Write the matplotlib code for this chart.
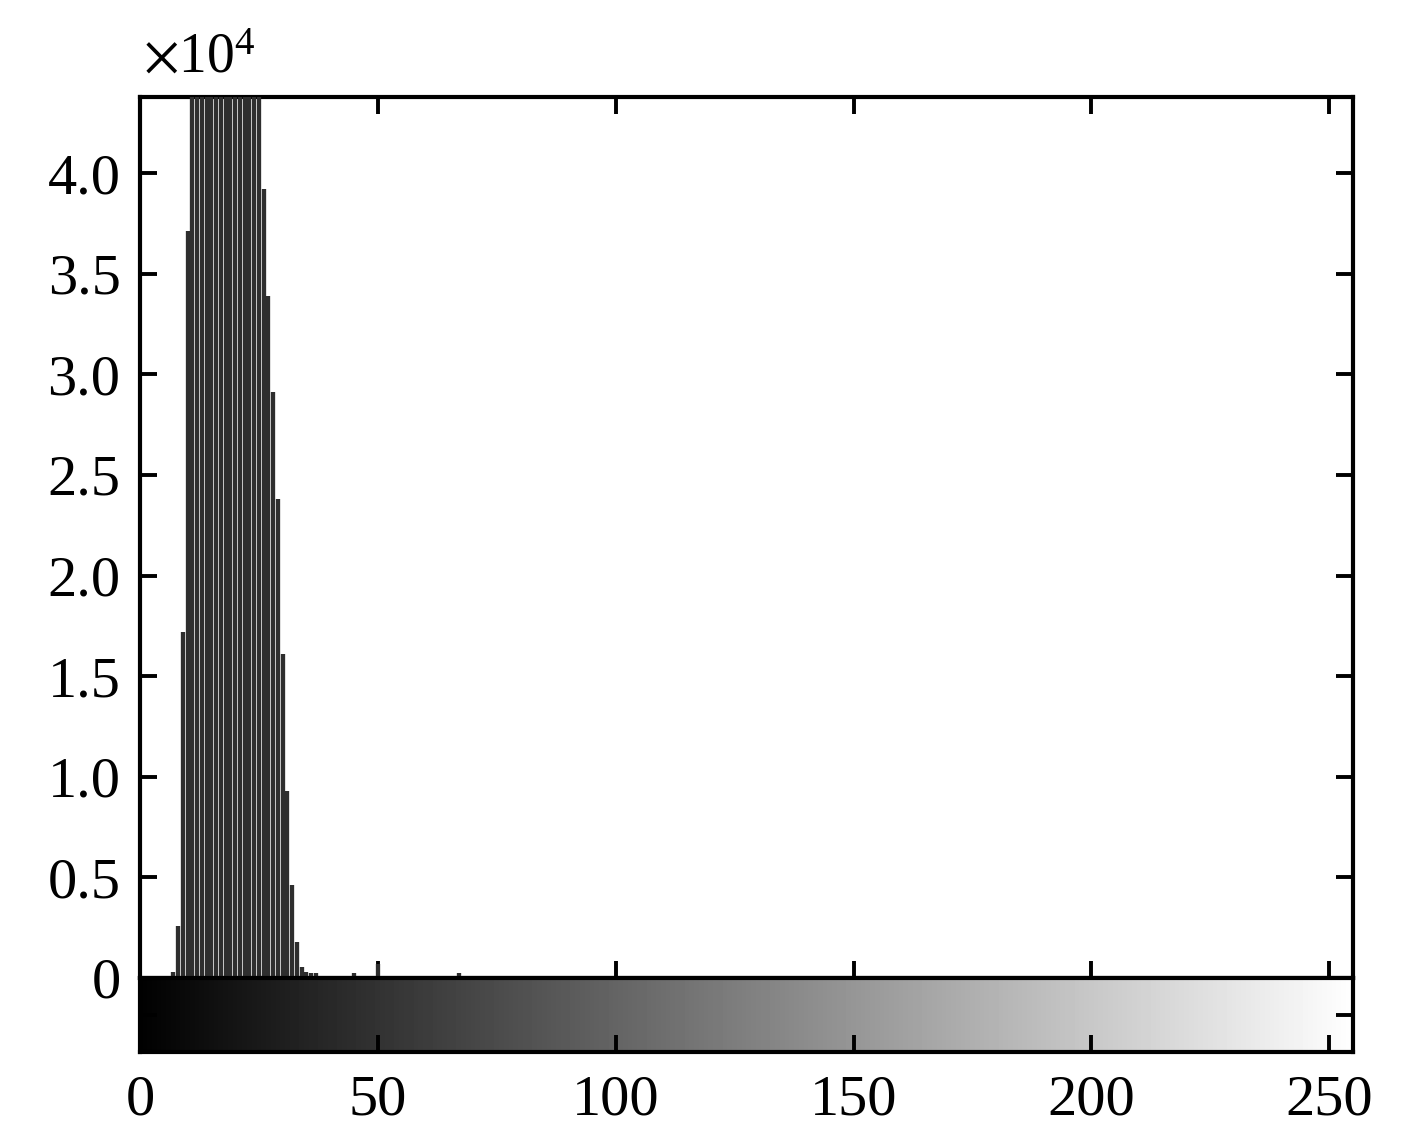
import numpy as np
import matplotlib
matplotlib.use('Agg')
import matplotlib.pyplot as plt

# Histogram data (gray level -> pixel count)
gray_levels = [7, 8, 9, 10, 11, 12, 13, 14, 15, 16, 17, 18, 19, 20, 21, 22, 23, 24, 25,
               26, 27, 28, 29, 30, 31, 32, 33, 34, 35, 36, 37, 45, 50, 67]
counts = [300, 2600, 17200, 37100, 49000, 56000, 60000, 62000, 63000, 62000, 61000, 59000,
          57000, 54000, 52000, 50000, 48000, 46000, 44500,
          39200, 33900, 29100, 23800, 16100, 9300, 4600, 1800, 560, 280, 260, 260, 250, 700, 250]

x_ticks = [0, 50, 100, 150, 200, 250]
y_ticks = [0, 5000, 10000, 15000, 20000, 25000, 30000, 35000, 40000]
y_ticklabels = ['0', '0.5', '1.0', '1.5', '2.0', '2.5', '3.0', '3.5', '4.0']

plt.rcParams['font.family'] = ['Liberation Serif', 'DejaVu Serif']
plt.rcParams['mathtext.fontset'] = 'stix'

W, H = 1417, 1142
fig = plt.figure(figsize=(W / 100, H / 100), dpi=100)

left, right = 140 / W, 1353 / W
top_h, bot_h = 1 - 97 / H, 1 - 978 / H
bot_c = 1 - 1052 / H

ax = fig.add_axes([left, bot_h, right - left, top_h - bot_h])
ax.vlines(gray_levels, 0, counts, colors='#2e2e2e', linewidth=3.1, zorder=3)
ax.set_xlim(0, 255)
ax.set_ylim(0, 43780)
ax.set_xticks(x_ticks)
ax.set_xticklabels([])
ax.set_yticks(y_ticks)
ax.set_yticklabels(y_ticklabels)
ax.tick_params(direction='in', length=12, width=2.8, top=True, right=True,
               labelsize=42, pad=14, color='black')
for s in ax.spines.values():
    s.set_linewidth(3.0)

# gray-level colorbar
cax = fig.add_axes([left, bot_c, right - left, bot_h - bot_c])
grad = np.arange(256)[None, :]
cax.imshow(grad, cmap='gray', aspect='auto', extent=(-0.5, 255.5, 0, 1),
           vmin=0, vmax=255, interpolation='nearest')
cax.set_xlim(0, 255)
cax.set_ylim(0, 1)
cax.set_xticks(x_ticks)
cax.set_xticklabels([str(v) for v in x_ticks])
cax.set_yticks([0.5])
cax.set_yticklabels([])
cax.tick_params(direction='in', length=12, width=2.8, right=True,
                labelsize=42, pad=16, color='black')
for s in cax.spines.values():
    s.set_linewidth(3.0)

fig.text(143 / W, 1 - 73 / H, r'$\times\mathregular{10^{4}}$', fontsize=40,
         va='baseline', ha='left')

fig.savefig('out.png', dpi=100, facecolor='white')
